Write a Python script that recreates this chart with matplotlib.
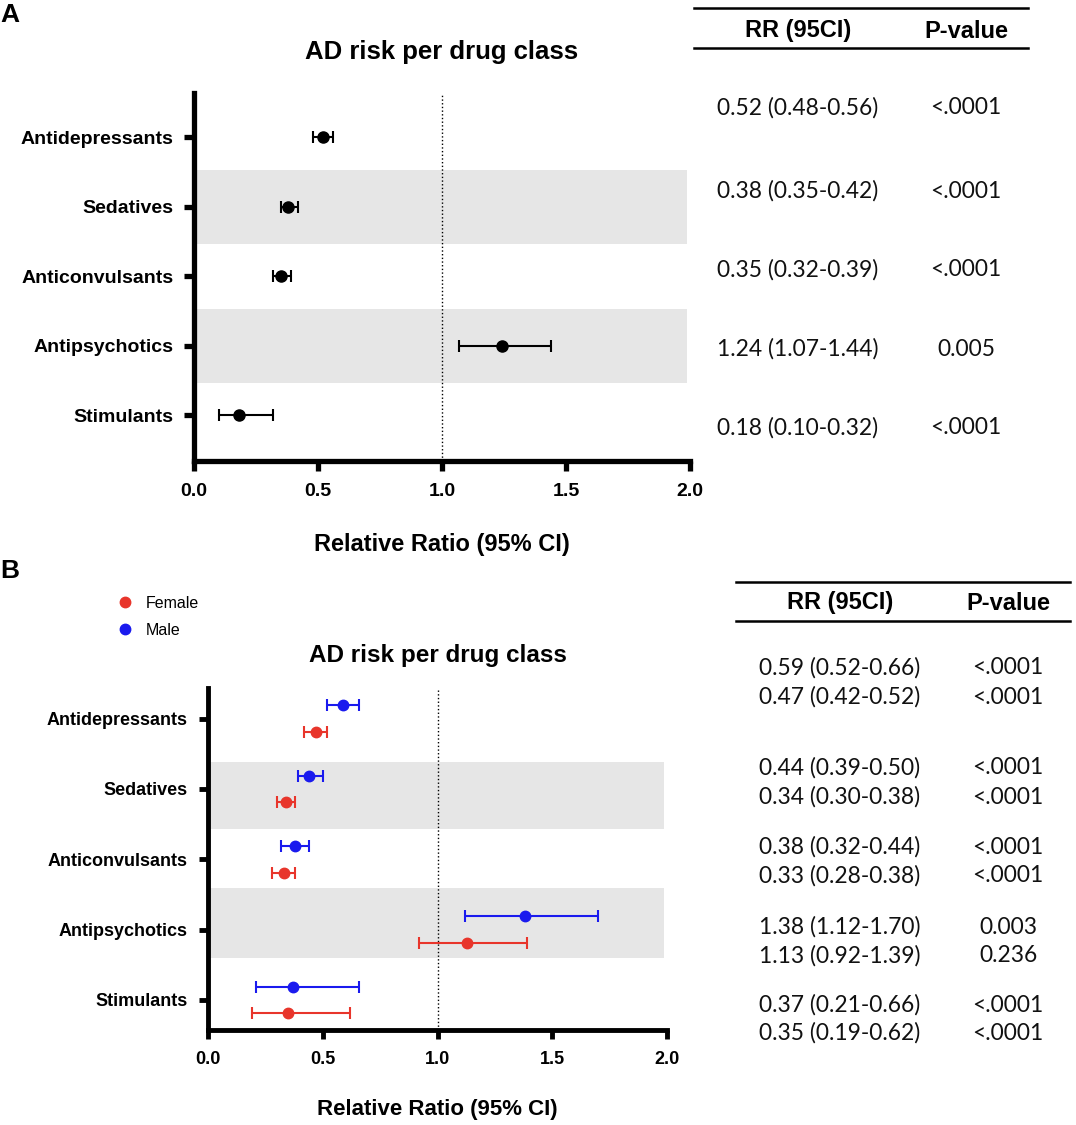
import matplotlib
matplotlib.use("Agg")
import matplotlib.pyplot as plt
from matplotlib.lines import Line2D

W, H = 1076, 1125

classes = ["Antidepressants", "Sedatives", "Anticonvulsants", "Antipsychotics", "Stimulants"]

# panel A: all patients
rr_all = [0.52, 0.38, 0.35, 1.24, 0.18]
lo_all = [0.48, 0.35, 0.32, 1.07, 0.10]
hi_all = [0.56, 0.42, 0.39, 1.44, 0.32]
p_all = ["<.0001", "<.0001", "<.0001", "0.005", "<.0001"]

# panel B: split by sex
rr_male = [0.59, 0.44, 0.38, 1.38, 0.37]
lo_male = [0.52, 0.39, 0.32, 1.12, 0.21]
hi_male = [0.66, 0.50, 0.44, 1.70, 0.66]
p_male = ["<.0001", "<.0001", "<.0001", "0.003", "<.0001"]

rr_female = [0.47, 0.34, 0.33, 1.13, 0.35]
lo_female = [0.42, 0.30, 0.28, 0.92, 0.19]
hi_female = [0.52, 0.38, 0.38, 1.39, 0.62]
p_female = ["<.0001", "<.0001", "<.0001", "0.236", "<.0001"]

xticks = [0.0, 0.5, 1.0, 1.5, 2.0]

RED = "#e8352b"
BLUE = "#1a1aee"
GREY = "#e6e6e6"
SANS = ["Liberation Sans", "DejaVu Sans"]
TABLE_FONT = ["Lato", "DejaVu Sans"]


def fx(x):
    return x / W


def fy(y):
    return 1 - y / H


def style_axis(ax, lw, ticklen, tick_fs, label_fs, title_fs, label_y, title_y):
    for side in ["top", "right"]:
        ax.spines[side].set_visible(False)
    for side in ["left", "bottom"]:
        ax.spines[side].set_linewidth(lw)
    ax.set_xlim(0, 2)
    ax.set_xticks(xticks)
    ax.set_xticklabels([f"{t:.1f}" for t in xticks], fontsize=tick_fs,
                       fontweight="bold", family=SANS)
    ax.set_yticks(ypos)
    ax.set_yticklabels(classes, fontsize=tick_fs, fontweight="bold", family=SANS)
    ax.tick_params(axis="both", width=lw, length=ticklen, direction="out")
    ax.tick_params(axis="x", pad=9)
    ax.tick_params(axis="y", pad=8)
    ax.axvline(1.0, color="black", ls=":", lw=1.0, zorder=1)
    ax.set_xlabel("Relative Ratio (95% CI)", fontsize=label_fs, fontweight="bold",
                  family=SANS, va="center")
    ax.xaxis.set_label_coords(0.5, label_y)
    ax.text(0.5, title_y, "AD risk per drug class", transform=ax.transAxes,
            ha="center", va="center", fontsize=title_fs, fontweight="bold",
            family=SANS)


def draw_table(fig, x0, x1, y_line1, y_line2, y_hdr, x_rr, x_p, rows_y, rr, lo, hi, pv):
    for yl in [y_line1, y_line2]:
        fig.add_artist(Line2D([fx(x0), fx(x1)], [fy(yl), fy(yl)], color="black",
                              lw=1.8, transform=fig.transFigure))
    fig.text(fx(x_rr), fy(y_hdr), "RR (95CI)", ha="center", va="center",
             fontsize=17, fontweight="bold", family=SANS)
    fig.text(fx(x_p), fy(y_hdr), "P-value", ha="center", va="center",
             fontsize=17, fontweight="bold", family=SANS)
    for y, r, l, h, p in zip(rows_y, rr, lo, hi, pv):
        fig.text(fx(x_rr), fy(y), f"{r:.2f} ({l:.2f}-{h:.2f})", ha="center",
                 va="center", fontsize=16.4, family=TABLE_FONT, color="#111111")
        fig.text(fx(x_p), fy(y), p, ha="center", va="center", fontsize=16.4,
                 family=TABLE_FONT, color="#111111")


ypos = [len(classes) - i for i in range(len(classes))]

fig = plt.figure(figsize=(W / 100, H / 100), dpi=100)

# ---- panel A ----
axA = fig.add_axes([fx(194), fy(461), fx(690) - fx(194), fy(93) - fy(461)])
axA.set_ylim(0.34, 5.64)
for i in [1, 3]:
    axA.axhspan(ypos[i] - 0.53, ypos[i] + 0.53, xmin=0, xmax=0.993, color=GREY,
                lw=0, zorder=0)
axA.errorbar(rr_all, ypos,
             xerr=[[r - l for r, l in zip(rr_all, lo_all)],
                   [h - r for r, h in zip(rr_all, hi_all)]],
             fmt="o", color="black", ms=8, elinewidth=1.5, capsize=4.3,
             capthick=1.5, zorder=3)
style_axis(axA, 3.8, 7, 14, 17, 18.5, -0.228, 1.111)

fig.text(0.0, fy(15), "A", ha="left", va="center", fontsize=19, fontweight="bold",
         family=SANS)

draw_table(fig, 694, 1028, 8, 48, 31, 798, 966, [108, 191, 270, 349, 428],
           rr_all, lo_all, hi_all, p_all)

# ---- panel B ----
axB = fig.add_axes([fx(208), fy(1029.5), fx(667) - fx(208), fy(688) - fy(1029.5)])
axB.set_ylim(0.58, 5.435)
axB.axhspan(ypos[1] - 0.57, ypos[1] + 0.39, xmin=0, xmax=0.993, color=GREY,
            lw=0, zorder=0)
axB.axhspan(ypos[3] - 0.41, ypos[3] + 0.59, xmin=0, xmax=0.993, color=GREY,
            lw=0, zorder=0)

off = 0.19
y_male = [y + off for y in ypos]
y_female = [y - off for y in ypos]

axB.errorbar(rr_female, y_female,
             xerr=[[r - l for r, l in zip(rr_female, lo_female)],
                   [h - r for r, h in zip(rr_female, hi_female)]],
             fmt="none", ecolor=RED, elinewidth=1.5, capsize=4, capthick=1.5,
             zorder=3)
axB.errorbar(rr_male, y_male,
             xerr=[[r - l for r, l in zip(rr_male, lo_male)],
                   [h - r for r, h in zip(rr_male, hi_male)]],
             fmt="none", ecolor=BLUE, elinewidth=1.5, capsize=4, capthick=1.5,
             zorder=3)
hf, = axB.plot(rr_female, y_female, "o", color=RED, ms=7.5, label="Female", zorder=4)
hm, = axB.plot(rr_male, y_male, "o", color=BLUE, ms=7.5, label="Male", zorder=4)
style_axis(axB, 3.5, 6.5, 13, 16, 17.5, -0.234, 1.095)

axB.legend(handles=[hf, hm], loc="upper left", bbox_to_anchor=(fx(109), fy(588)),
           bbox_transform=fig.transFigure, frameon=False, borderpad=0,
           handlelength=1.0, handletextpad=0.8, labelspacing=0.75,
           prop={"family": SANS, "size": 11.5})

fig.text(0.0, fy(571), "B", ha="left", va="center", fontsize=19, fontweight="bold",
         family=SANS)

rows_b = [668, 697, 768, 797, 847, 876, 927, 956, 1005, 1033]
rr_b, lo_b, hi_b, p_b = [], [], [], []
for i in range(len(classes)):
    rr_b += [rr_male[i], rr_female[i]]
    lo_b += [lo_male[i], lo_female[i]]
    hi_b += [hi_male[i], hi_female[i]]
    p_b += [p_male[i], p_female[i]]
draw_table(fig, 736, 1070, 582, 621, 603, 840, 1008, rows_b, rr_b, lo_b, hi_b, p_b)

fig.savefig("out.png", dpi=100)
